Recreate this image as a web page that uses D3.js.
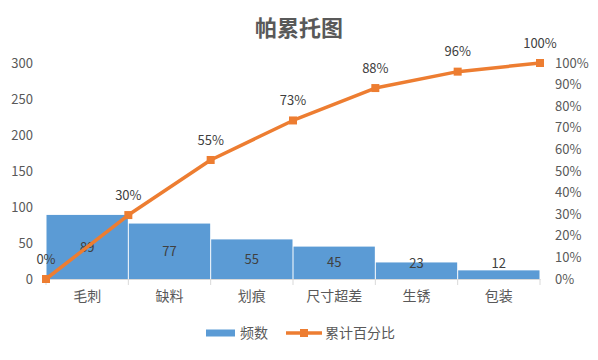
<!DOCTYPE html>
<html><head><meta charset="utf-8">
<script src="https://cdn.jsdelivr.net/npm/d3@7"></script>
<style>body{margin:0;background:#fff}svg{display:block}text{font-family:"Noto Sans CJK SC","Noto Sans",sans-serif}</style>
</head><body><div id="c"></div>
<script>
const categories = ["毛刺","缺料","划痕","尺寸超差","生锈","包装"];
const counts = [89,77,55,45,23,12];
const cumPercent = [0,29.6,55.1,73.4,88.4,96.0,100];
const cumLabels = ["0%","30%","55%","73%","88%","96%","100%"];
const leftTicks = [0,50,100,150,200,250,300];
const rightTicks = [0,10,20,30,40,50,60,70,80,90,100];

const W=598,H=360;
const svg=d3.select("#c").append("svg").attr("width",W).attr("height",H);
const x0=46,x1=540,yTop=63,yBot=279;
const x=d3.scaleBand().domain(categories).range([x0,x1]).padding(0);
const xLin=d3.scaleLinear().domain([0,categories.length]).range([x0,x1]);
const yL=d3.scaleLinear().domain([0,300]).range([yBot,yTop]);
const yR=d3.scaleLinear().domain([0,100]).range([yBot,yTop]);
const txt="#595959";

svg.append("text").attr("x",299).attr("y",36).attr("text-anchor","middle")
  .attr("font-size",22).attr("font-weight","bold").attr("fill",txt).text("帕累托图");

// left axis
const gl=svg.append("g").attr("transform",`translate(${x0-13},0)`)
  .call(d3.axisLeft(yL).tickValues(leftTicks).tickSize(0).tickPadding(0));
gl.select(".domain").remove();
gl.selectAll("text").attr("font-size",13).attr("fill",txt).attr("font-family",'"Noto Sans CJK SC",sans-serif');

// right axis
const gr=svg.append("g").attr("transform",`translate(${x1+15},0)`)
  .call(d3.axisRight(yR).tickValues(rightTicks).tickSize(0).tickPadding(0).tickFormat(d=>d+"%"));
gr.select(".domain").remove();
gr.selectAll("text").attr("font-size",13).attr("fill",txt).attr("font-family",'"Noto Sans CJK SC",sans-serif');

// bars
svg.append("g").selectAll("rect").data(counts).join("rect")
  .attr("x",(d,i)=>x(categories[i])+0.5).attr("width",x.bandwidth()-1)
  .attr("y",d=>yL(d)).attr("height",d=>yBot-yL(d)).attr("fill","#5B9BD5");

// bottom axis
const gb=svg.append("g").attr("transform",`translate(0,${yBot})`)
  .call(d3.axisBottom(x).tickSize(0).tickPadding(12));
gb.select(".domain").attr("stroke","#d9d9d9");
gb.selectAll("text").attr("font-size",14).attr("fill",txt).attr("font-family",'"Noto Sans CJK SC",sans-serif');
svg.append("g").selectAll("line").data(d3.range(categories.length+1)).join("line")
  .attr("x1",i=>xLin(i)).attr("x2",i=>xLin(i)).attr("y1",yBot).attr("y2",yBot+6)
  .attr("stroke","#d9d9d9");

// bar labels
svg.append("g").selectAll("text").data(counts).join("text")
  .attr("x",(d,i)=>x(categories[i])+x.bandwidth()/2)
  .attr("y",d=>Math.min((yL(d)+yBot)/2,yBot-16))
  .attr("dy","0.35em").attr("text-anchor","middle").attr("font-size",13).attr("fill","#404040")
  .text(d=>d);

// line
const lc="#ED7D31";
svg.append("path").datum(cumPercent)
  .attr("d",d3.line().x((d,i)=>xLin(i)).y(d=>yR(d)))
  .attr("fill","none").attr("stroke",lc).attr("stroke-width",3.5).attr("stroke-linejoin","round");
svg.append("g").selectAll("rect").data(cumPercent).join("rect")
  .attr("x",(d,i)=>xLin(i)-4).attr("y",d=>yR(d)-4).attr("width",8).attr("height",8).attr("fill",lc);
svg.append("g").selectAll("text").data(cumPercent).join("text")
  .attr("x",(d,i)=>xLin(i)).attr("y",d=>yR(d)-20).attr("dy","0.35em")
  .attr("text-anchor","middle").attr("font-size",13).attr("fill","#404040")
  .text((d,i)=>cumLabels[i]);

// legend
const ly=333;
svg.append("rect").attr("x",206).attr("y",ly-3.5).attr("width",29).attr("height",7).attr("fill","#5B9BD5");
svg.append("text").attr("x",240).attr("y",ly).attr("dy","0.35em").attr("font-size",14).attr("fill",txt).text("频数");
svg.append("line").attr("x1",286).attr("x2",322).attr("y1",ly).attr("y2",ly).attr("stroke",lc).attr("stroke-width",3.5);
svg.append("rect").attr("x",300).attr("y",ly-4).attr("width",8).attr("height",8).attr("fill",lc);
svg.append("text").attr("x",325).attr("y",ly).attr("dy","0.35em").attr("font-size",14).attr("fill",txt).text("累计百分比");
</script></body></html>
